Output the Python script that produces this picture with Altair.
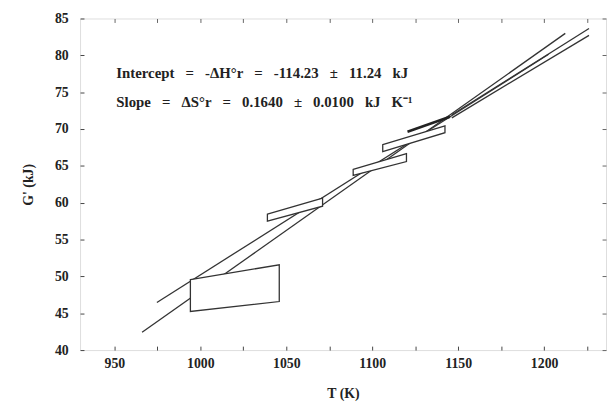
import altair as alt
import pandas as pd

# ---- data (T in K, G' in kJ) ----
line_names = ["upper", "lower", "thin_top", "thin_bottom"]
line_T_start = [966.1, 974.7, 1146.3, 1146.3]
line_G_start = [42.41, 46.46, 71.93, 71.52]
line_T_end = [1212.3, 1202.6, 1226.1, 1226.1]
line_G_end = [82.98, 80.15, 83.65, 82.71]

bold_T = [1120.5, 1145.2]
bold_G = [69.64, 71.66]

box_names = ["b1", "b2", "b3", "b4"]
box_T_left = [994.2, 1039.0, 1088.9, 1106.1]
box_T_right = [1045.9, 1071.1, 1119.9, 1142.3]
box_G_top_left = [49.56, 58.45, 64.51, 67.88]
box_G_bot_left = [45.24, 57.51, 63.71, 66.94]
box_G_top_right = [51.58, 60.61, 66.67, 70.44]
box_G_bot_right = [46.59, 59.53, 65.59, 69.50]

x_ticks = [950, 975, 1000, 1025, 1050, 1075, 1100, 1125, 1150, 1175, 1200, 1225]
y_ticks = [40, 45, 50, 55, 60, 65, 70, 75, 80, 85]

S = "\u00a0\u00a0 "  # wide gap that SVG does not collapse
notes = [S.join(["Intercept", "=", "-\u0394H\u00b0r", "=", "-114.23", "\u00b1", "11.24", "kJ"]),
         S.join(["Slope", "=", "\u0394S\u00b0r", "=", "0.1640", "\u00b1", "0.0100", "kJ", "K\u207b\u00b9"])]
note_T = [951.1, 951.1]
note_G = [77.6, 73.7]

# ---- tables ----
lines_df = pd.DataFrame({
    "id": line_names * 2,
    "T": line_T_start + line_T_end,
    "G": line_G_start + line_G_end,
})
bold_df = pd.DataFrame({"T": bold_T, "G": bold_G})
boxes_df = pd.DataFrame({
    "id": box_names * 2,
    "T": box_T_left + box_T_right,
    "Gt": box_G_top_left + box_G_top_right,
    "Gb": box_G_bot_left + box_G_bot_right,
})
notes_df = pd.DataFrame({"T": note_T, "G": note_G, "text": notes})

FONT = "Liberation Serif"
INK = "#333333"

xs = alt.Scale(domain=[930, 1236], nice=False, zero=False)
ys = alt.Scale(domain=[40, 85], nice=False, zero=False)

x_bottom = alt.Axis(values=x_ticks, labelExpr="datum.value % 50 == 0 ? datum.label : ''",
                    format="d", tickSize=4, offset=-4, domain=False, grid=False,
                    labelPadding=7, labelFont=FONT, labelFontWeight="bold", labelFontSize=14,
                    labelColor="#222", tickColor="#444", title="T (K)", titleFont=FONT,
                    titleFontWeight="bold", titleFontSize=14, titleColor="#222", titlePadding=16)
y_left = alt.Axis(values=y_ticks, format="d", tickSize=4, offset=-4, domain=False, grid=False,
                  labelPadding=12, labelFont=FONT, labelFontWeight="bold", labelFontSize=14,
                  labelColor="#222", tickColor="#444", title="G' (kJ)", titleFont=FONT,
                  titleFontWeight="bold", titleFontSize=14, titleColor="#222", titlePadding=19)
x_top = alt.Axis(orient="top", values=x_ticks, tickSize=4, offset=-4, domain=False, grid=False,
                 labels=False, tickColor="#666", title=None)
y_right = alt.Axis(orient="right", values=y_ticks, tickSize=4, offset=-4, domain=False, grid=False,
                   labels=False, tickColor="#666", title=None)

lines = alt.Chart(lines_df).mark_line(color=INK, strokeWidth=1.3).encode(
    x=alt.X("T:Q", scale=xs, axis=x_bottom),
    y=alt.Y("G:Q", scale=ys, axis=y_left),
    detail="id:N",
)

boxes = alt.Chart(boxes_df).mark_area(fill="white", stroke=INK, strokeWidth=1.3).encode(
    x=alt.X("T:Q", scale=xs, axis=x_top),
    y=alt.Y("Gt:Q", scale=ys, axis=y_right),
    y2="Gb:Q",
    detail="id:N",
)

bold = alt.Chart(bold_df).mark_line(color="#222", strokeWidth=2.6).encode(
    x=alt.X("T:Q", scale=xs, axis=None),
    y=alt.Y("G:Q", scale=ys, axis=None),
)

text = alt.Chart(notes_df).mark_text(align="left", baseline="middle", font=FONT,
                                      fontWeight="bold", fontSize=15, color="#222").encode(
    x=alt.X("T:Q", scale=xs, axis=None),
    y=alt.Y("G:Q", scale=ys, axis=None),
    text="text:N",
)

chart = alt.layer(lines, boxes, bold, text).resolve_axis(
    x="independent", y="independent"
).properties(
    width=533, height=336,
    autosize=alt.AutoSizeParams(type="none"),
    padding={"left": 73, "top": 8, "right": 2, "bottom": 52},
).configure_view(stroke="#333", strokeWidth=1.2).configure(background="white")

chart.save("out.html", embed_options={"renderer": "svg", "actions": False})
